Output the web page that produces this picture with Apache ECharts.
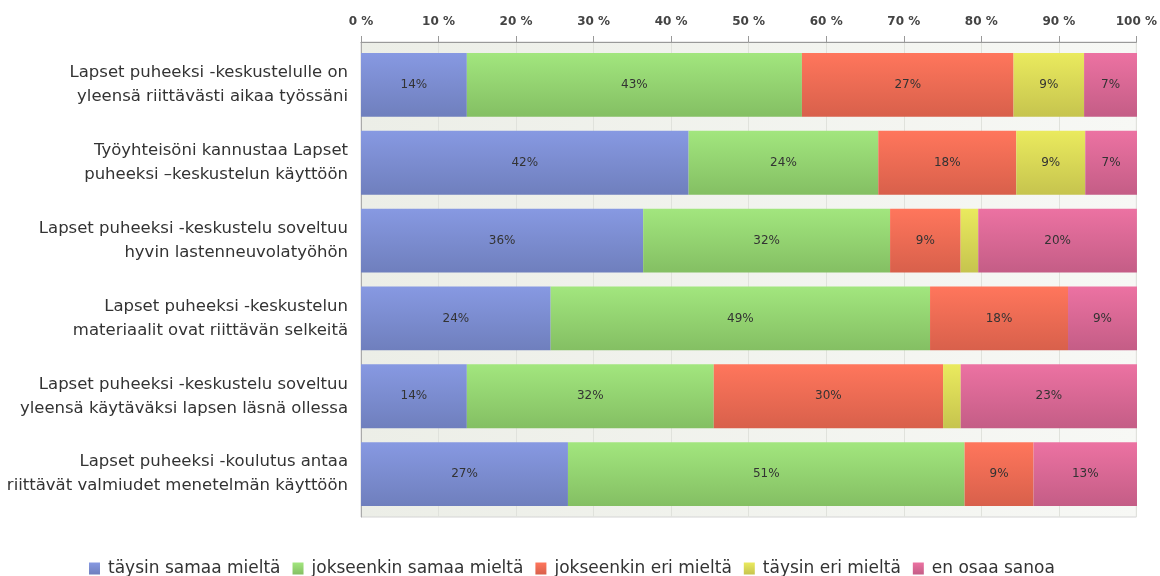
<!DOCTYPE html>
<html><head><meta charset="utf-8">
<script src="https://cdn.jsdelivr.net/npm/echarts@6/dist/echarts.min.js"></script>
<style>html,body{margin:0;padding:0;background:#fff}#c{width:1160px;height:576px}</style>
</head><body><div id="c"></div>
<script>
const categories = [
  'Lapset puheeksi -keskustelulle on\nyleensä riittävästi aikaa työssäni',
  'Työyhteisöni kannustaa Lapset\npuheeksi –keskustelun käyttöön',
  'Lapset puheeksi -keskustelu soveltuu\nhyvin lastenneuvolatyöhön',
  'Lapset puheeksi -keskustelun\nmateriaalit ovat riittävän selkeitä',
  'Lapset puheeksi -keskustelu soveltuu\nyleensä käytäväksi lapsen läsnä ollessa',
  'Lapset puheeksi -koulutus antaa\nriittävät valmiudet menetelmän käyttöön'
];
const seriesNames = ['täysin samaa mieltä','jokseenkin samaa mieltä','jokseenkin eri mieltä','täysin eri mieltä','en osaa sanoa'];
const taysinSamaa   = [13.64, 42.22, 36.36, 24.44, 13.64, 26.67];
const jokseenSamaa  = [43.18, 24.44, 31.82, 48.89, 31.82, 51.11];
const jokseenEri    = [27.27, 17.78, 9.09, 17.78, 29.55, 8.89];
const taysinEri     = [9.09, 8.89, 2.27, 0, 2.27, 0];
const enOsaa        = [6.82, 6.67, 20.45, 8.89, 22.73, 13.33];
const tickLabels = ['0 %','10 %','20 %','30 %','40 %','50 %','60 %','70 %','80 %','90 %','100 %'];

const colors = [
  ['#8799e2','#6f7fbd'],
  ['#a2e67e','#84bf63'],
  ['#ff765c','#d8604b'],
  ['#eaea5e','#c6c44e'],
  ['#ec72a2','#c45d86']
];
const values = [taysinSamaa, jokseenSamaa, jokseenEri, taysinEri, enOsaa];
const font = 'DejaVu Sans';
const chart = echarts.init(document.getElementById('c'));
chart.setOption({
  animation: false,
  legend: {
    top: 555, left: 84, itemWidth: 11, itemHeight: 12, itemGap: 12,
    icon: 'rect',
    textStyle: {fontFamily: font, fontSize: 17, color: '#333', padding: [0,0,0,3]},
    data: seriesNames
  },
  grid: [
    {
      left: 361, right: 23, top: 42, bottom: 59, show: true,
      borderColor: '#d4d4d4', borderWidth: 1,
      backgroundColor: new echarts.graphic.LinearGradient(0,0,1,0,[{offset:0,color:'#eceee7'},{offset:1,color:'#f7f8f5'}])
    },
    {left: 361, right: 23, top: 46, bottom: 63}
  ],
  xAxis: [
    {
      gridIndex: 0, type: 'value', position: 'top', min: 0, max: 100, interval: 10,
      axisLine: {show: true, lineStyle: {color: '#999'}},
      axisTick: {show: true, length: 6, lineStyle: {color: '#999'}},
      axisLabel: {fontFamily: font, fontSize: 12, fontWeight: 'bold', color: '#444', margin: 14,
        formatter: (v) => tickLabels[Math.round(v/10)]},
      splitLine: {show: true, lineStyle: {color: '#e0e2dc'}}
    },
    {
      gridIndex: 1, type: 'value', min: 0, max: 100, show: false
    }
  ],
  yAxis: [
    {
      gridIndex: 0, type: 'category', data: [''],
      axisLine: {show: true, lineStyle: {color: '#aaa'}},
      axisTick: {show: false}, axisLabel: {show: false}
    },
    {
      gridIndex: 1, type: 'category', inverse: true, data: categories,
      axisLine: {show: false},
      axisTick: {show: false},
      axisLabel: {fontFamily: font, fontSize: 16.5, color: '#333', margin: 13, lineHeight: 24, align: 'right'}
    }
  ],
  series: values.map((arr, i) => ({
    name: seriesNames[i], type: 'bar', stack: 'a', barWidth: '82%',
    xAxisIndex: 1, yAxisIndex: 1,
    data: arr,
    itemStyle: {color: new echarts.graphic.LinearGradient(0,0,0,1,[{offset:0,color:colors[i][0]},{offset:1,color:colors[i][1]}])},
    label: {show: true, position: 'inside', fontFamily: font, fontSize: 12, color: '#333',
      formatter: (p) => p.value >= 4 ? Math.round(p.value) + '%' : ''}
  }))
});
</script></body></html>
